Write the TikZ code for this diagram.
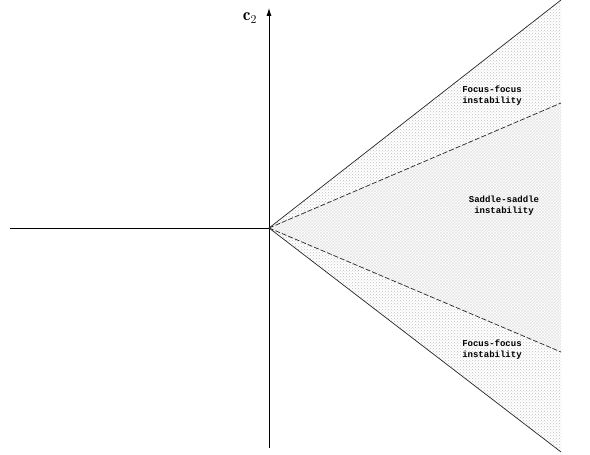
\documentclass[tikz,border=0pt]{standalone}
\usepackage{amsmath}
\usepackage{fontspec}
\newfontfamily\labelfont{Liberation Mono}
\usetikzlibrary{arrows.meta, patterns}

\begin{document}
\begin{tikzpicture}[
  x=1pt, y=1pt,
  axis/.style={line width=0.8pt, color=black},
  bound/.style={line width=0.7pt, color=black!85},
  sep/.style={line width=0.7pt, color=black!85, dash pattern=on 5pt off 2pt},
  focus/.style={pattern=crosshatch dots, pattern color=gray!50},
  saddle/.style={pattern=crosshatch, pattern color=gray!22},
  region/.style={font=\labelfont\fontsize{9}{11}\selectfont\bfseries, align=center}
]
  \useasboundingbox (0,0) rectangle (590,455);

  %% ── Key points ────────────────────────────────────────────────────
  \coordinate (O)  at (269,227);
  \coordinate (ut) at (561,455); % upper solid end
  \coordinate (ud) at (561,352); % upper dashed end
  \coordinate (ld) at (561,103); % lower dashed end
  \coordinate (lb) at (561,3);   % lower solid end

  %% ── Shaded regions ────────────────────────────────────────────────
  \fill[focus]  (O) -- (ut) -- (ud) -- cycle;
  \fill[saddle] (O) -- (ud) -- (ld) -- cycle;
  \fill[focus]  (O) -- (ld) -- (lb) -- cycle;

  %% ── Axes ──────────────────────────────────────────────────────────
  \coordinate (xl) at (10,227);
  \coordinate (yb) at (269,7);
  \coordinate (yt) at (269,447);
  \draw[axis] (xl) -- (O);
  \draw[axis, -{Latex[length=8pt, width=5pt]}] (yb) -- (yt);
  \node[font=\LARGE] (c2) at (250,437) {$\mathbf{c}_2$};

  %% ── Boundaries ────────────────────────────────────────────────────
  \draw[bound] (O) -- (ut);
  \draw[sep]   (O) -- (ud);
  \draw[sep]   (O) -- (ld);
  \draw[bound] (O) -- (lb);

  %% ── Region labels ─────────────────────────────────────────────────
  \node[region] (ffup) at (492,359) {Focus-focus\\instability};
  \node[region] (ss)   at (504,249) {Saddle-saddle\\instability};
  \node[region] (ffdn) at (492,105) {Focus-focus\\instability};
\end{tikzpicture}
\end{document}
